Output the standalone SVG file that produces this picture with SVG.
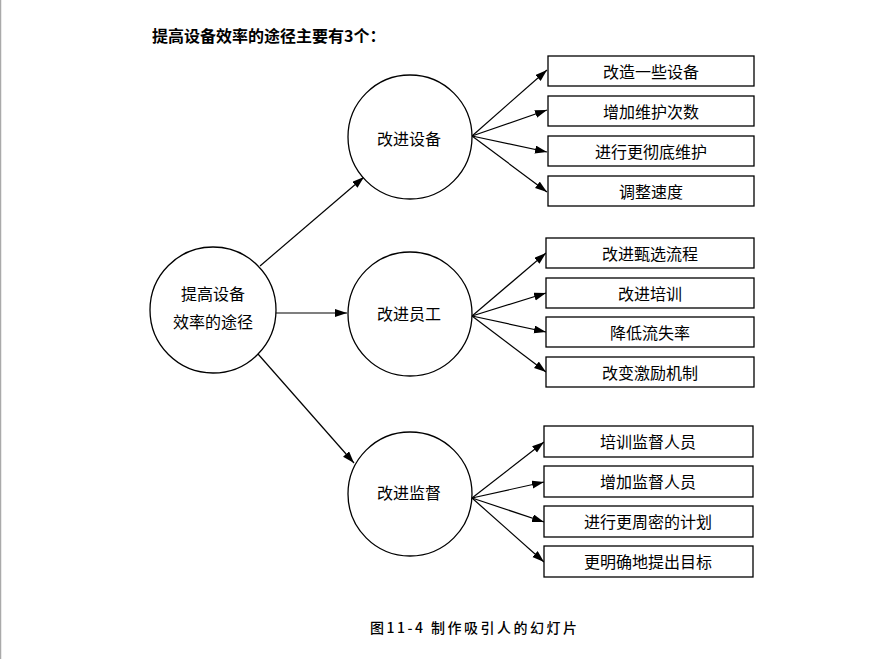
<svg xmlns="http://www.w3.org/2000/svg" width="871" height="659" viewBox="0 0 871 659">
<style>
.bg{fill:#ffffff}
.c{fill:#ffffff;stroke:#000;stroke-width:1.3}
.b{fill:#ffffff;stroke:#000;stroke-width:1.3}
.t{font-family:"Noto Sans CJK SC","Noto Sans",sans-serif;font-size:16px;fill:#000;text-anchor:middle;dominant-baseline:central}
.ln{stroke:#000;stroke-width:1.2;fill:none;marker-end:url(#ah)}
.title{font-family:"Noto Sans CJK SC","Noto Sans",sans-serif;font-size:16px;font-weight:bold;fill:#000}
.cap{font-family:"Noto Sans CJK SC","Noto Sans",sans-serif;font-size:14px;font-weight:500;fill:#000;letter-spacing:2.5px}
</style>
<defs>
<marker id="ah" markerUnits="userSpaceOnUse" markerWidth="13" markerHeight="9" refX="12" refY="4" orient="auto">
<path d="M0,0 L12,4 L0,8 z" fill="#000"/>
</marker>
</defs>
<rect class="bg" x="0" y="0" width="871" height="659"/>
<line x1="0.5" y1="0" x2="0.5" y2="659" stroke="#aaaaaa" stroke-width="1.5"/>
<text class="title" x="152" y="42">提高设备效率的途径主要有3个：</text>

<g id="connectors">
<line class="ln" x1="260" y1="266" x2="364" y2="177"/>
<line class="ln" x1="276" y1="313" x2="347" y2="313"/>
<line class="ln" x1="258" y1="354" x2="354" y2="463"/>

<line class="ln" x1="472" y1="136" x2="547" y2="70"/>
<line class="ln" x1="472" y1="136" x2="547" y2="110"/>
<line class="ln" x1="472" y1="136" x2="547" y2="152"/>
<line class="ln" x1="472" y1="136" x2="547" y2="192"/>

<line class="ln" x1="472" y1="316" x2="546" y2="253"/>
<line class="ln" x1="472" y1="316" x2="546" y2="293"/>
<line class="ln" x1="472" y1="316" x2="546" y2="332"/>
<line class="ln" x1="472" y1="316" x2="546" y2="372"/>

<line class="ln" x1="472" y1="498" x2="544" y2="442"/>
<line class="ln" x1="472" y1="498" x2="544" y2="482"/>
<line class="ln" x1="472" y1="498" x2="544" y2="522"/>
<line class="ln" x1="472" y1="498" x2="544" y2="562"/>
</g>

<g id="root">
<circle class="c" cx="213" cy="310" r="63"/>
<text class="t" x="213" y="293">提高设备</text>
<text class="t" x="213" y="321">效率的途径</text>
</g>

<g id="equip">
<circle class="c" cx="410" cy="137" r="62"/>
<text class="t" x="409" y="138">改进设备</text>
</g>
<g id="staff">
<circle class="c" cx="410" cy="314" r="62"/>
<text class="t" x="409" y="313">改进员工</text>
</g>
<g id="super">
<circle class="c" cx="410" cy="494" r="62"/>
<text class="t" x="409" y="492">改进监督</text>
</g>

<g id="e1"><rect class="b" x="548" y="56" width="206" height="30"/><text class="t" x="651" y="71">改造一些设备</text></g>
<g id="e2"><rect class="b" x="548" y="96" width="206" height="30"/><text class="t" x="651" y="111">增加维护次数</text></g>
<g id="e3"><rect class="b" x="548" y="136" width="206" height="30"/><text class="t" x="651" y="151">进行更彻底维护</text></g>
<g id="e4"><rect class="b" x="548" y="176" width="206" height="30"/><text class="t" x="651" y="191">调整速度</text></g>

<g id="s1"><rect class="b" x="546" y="238" width="208" height="30"/><text class="t" x="650" y="253">改进甄选流程</text></g>
<g id="s2"><rect class="b" x="546" y="278" width="208" height="30"/><text class="t" x="650" y="293">改进培训</text></g>
<g id="s3"><rect class="b" x="546" y="317" width="208" height="30"/><text class="t" x="650" y="332">降低流失率</text></g>
<g id="s4"><rect class="b" x="546" y="357" width="208" height="30"/><text class="t" x="650" y="372">改变激励机制</text></g>

<g id="p1"><rect class="b" x="544" y="426" width="209" height="31"/><text class="t" x="648" y="441">培训监督人员</text></g>
<g id="p2"><rect class="b" x="544" y="466" width="209" height="31"/><text class="t" x="648" y="481">增加监督人员</text></g>
<g id="p3"><rect class="b" x="544" y="506" width="209" height="31"/><text class="t" x="648" y="521">进行更周密的计划</text></g>
<g id="p4"><rect class="b" x="544" y="546" width="209" height="31"/><text class="t" x="648" y="561">更明确地提出目标</text></g>

<text class="cap" x="370" y="633">图11-4 制作吸引人的幻灯片</text>
</svg>
